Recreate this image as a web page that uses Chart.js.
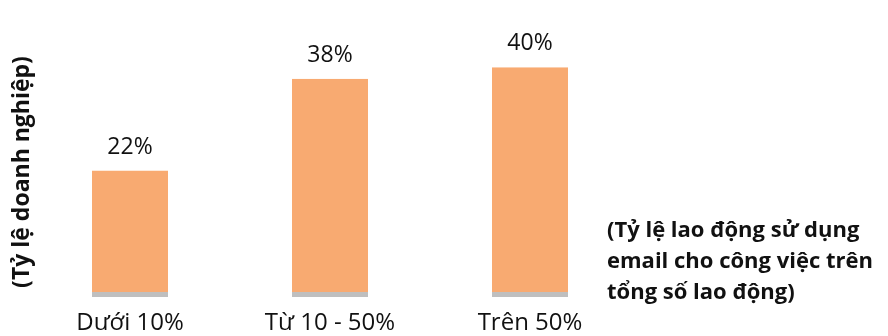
<!DOCTYPE html>
<html>
<head>
<meta charset="utf-8">
<script src="https://cdn.jsdelivr.net/npm/chart.js@4.4.1/dist/chart.umd.min.js"></script>
<style>
  html, body { margin: 0; padding: 0; background: #ffffff; }
  #wrap { position: relative; width: 888px; height: 336px; }
</style>
</head>
<body>
<div id="wrap"><canvas id="c" width="888" height="336"></canvas></div>
<script>
// Share of businesses by share of employees using email for work
const categories = ['Dưới 10%', 'Từ 10 - 50%', 'Trên 50%'];
const shares = [22, 38, 40];
const yAxisTitle = '(Tỷ lệ doanh nghiệp)';
const xAxisNote = ['(Tỷ lệ lao động sử dụng', 'email cho công việc trên', 'tổng số lao động)'];

const FONT = "'Open Sans', 'Noto Sans', sans-serif";
const TEXT = '#111111';

// Percentage labels above each bar
const valueLabels = {
  id: 'valueLabels',
  afterDatasetsDraw(chart) {
    const ctx = chart.ctx;
    const meta = chart.getDatasetMeta(0);
    ctx.save();
    ctx.font = '23px ' + FONT;
    ctx.fillStyle = TEXT;
    ctx.textAlign = 'center';
    ctx.textBaseline = 'alphabetic';
    meta.data.forEach((bar, i) => {
      ctx.fillText(shares[i] + '%', bar.x, bar.y - 17);
    });
    ctx.restore();
  }
};

// Axis titles: rotated one on the left, three-line note at the right
const axisTitles = {
  id: 'axisTitles',
  afterDraw(chart) {
    const ctx = chart.ctx;
    ctx.save();
    ctx.fillStyle = TEXT;
    ctx.font = 'bold 23px ' + FONT;
    ctx.translate(22, 172);
    ctx.rotate(-Math.PI / 2);
    ctx.textAlign = 'center';
    ctx.textBaseline = 'middle';
    ctx.fillText(yAxisTitle, 0, 0);
    ctx.restore();

    ctx.save();
    ctx.fillStyle = TEXT;
    ctx.font = 'bold 22px ' + FONT;
    ctx.textAlign = 'left';
    ctx.textBaseline = 'alphabetic';
    xAxisNote.forEach((line, i) => {
      ctx.fillText(line, 607, 237 + i * 31);
    });
    ctx.restore();
  }
};

new Chart(document.getElementById('c'), {
  type: 'bar',
  data: {
    labels: categories,
    datasets: [{
      data: shares,
      backgroundColor: '#F8AA71',
      borderColor: '#BFBFBF',
      borderWidth: { top: 0, left: 0, right: 0, bottom: 5 },
      borderSkipped: false,
      barPercentage: 1,
      categoryPercentage: 0.38
    }]
  },
  options: {
    responsive: false,
    animation: false,
    layout: { padding: { left: 30, right: 258, top: 27, bottom: 0 } },
    plugins: { legend: { display: false }, tooltip: { enabled: false } },
    scales: {
      x: {
        grid: { display: false },
        border: { display: false },
        ticks: { font: { size: 24, family: FONT }, color: TEXT, padding: 4 },
        afterFit(scale) { scale.height = 39; }
      },
      y: {
        display: false,
        min: 0,
        max: 47
      }
    }
  },
  plugins: [valueLabels, axisTitles]
});
</script>
</body>
</html>
